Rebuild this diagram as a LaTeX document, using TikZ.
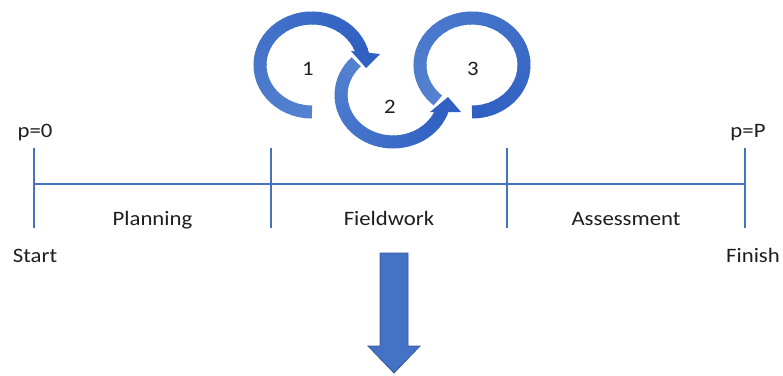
\documentclass[tikz,border=0pt]{standalone}
\usepackage{fontspec}
\usepackage{graphicx}
\setmainfont{Carlito}
\usetikzlibrary{calc}

\definecolor{lineblue}{HTML}{4472C4}
\definecolor{arclight}{HTML}{5482D0}
\definecolor{arcdark}{HTML}{2F60C2}
\definecolor{arrowedge}{HTML}{34599E}
\definecolor{txt}{HTML}{1E1E1E}

% horizontally widened text
\newcommand{\wide}[1]{\scalebox{1.11}[1]{#1}}

% thick elliptical arc whose colour runs from #6 to #7
% #1 centre, #2/#3 radii (pt), #4 start angle, #5 end angle
\newcommand{\gradarc}[7]{%
  \foreach \k in {0,...,39}{%
    \pgfmathsetmacro{\ta}{#4+(#5-#4)*\k/40}%
    \pgfmathsetmacro{\tb}{#4+(#5-#4)*min(\k+1.2,40)/40}%
    \pgfmathtruncatemacro{\pc}{100*\k/39}%
    \colorlet{segcol}{#7!\pc!#6}%
    \draw[line width=13pt, segcol]
      ($(#1)+(\ta:#2pt and #3pt)$) arc[start angle=\ta, end angle=\tb, x radius=#2pt, y radius=#3pt];
  }}

\begin{document}
\begin{tikzpicture}[x=1pt, y=1pt,
  tl/.style={draw=lineblue, line width=2.8pt},
  lbl/.style={font=\fontsize{20.5}{24}\selectfont, text=txt, inner sep=0pt, anchor=base}]

\useasboundingbox (0,0) rectangle (783,-375);
\fill[white] (0,0) rectangle (783,-375);

% ---- timeline ----
\coordinate (t0) at (34,-184);
\coordinate (t1) at (271,-184);
\coordinate (t2) at (507,-184);
\coordinate (t3) at (745,-184);
\foreach \t in {t0,t1,t2,t3}{
  \coordinate (\t top) at ($(\t)+(0,36)$);
  \coordinate (\t bot) at ($(\t)+(0,-44)$);
  \draw[tl] (\t top) -- (\t bot);
}
\draw[tl] (t0) -- (t3);

\node[lbl] (p0) at (35,-137) {\wide{p=0}};
\node[lbl] (pP) at (748,-137) {\wide{p=P}};
\node[lbl] (start) at (35,-262) {\wide{Start}};
\node[lbl] (finish) at (753,-262) {\wide{Finish}};
\node[lbl] (plan) at ($(t0)!0.5!(t1)+(0,-41)$) {\wide{Planning}};
\node[lbl] (field) at ($(t1)!0.5!(t2)+(0,-41)$) {\wide{Fieldwork}};
\node[lbl] (assess) at ($(t2)!0.5!(t3)+(0,-41)$) {\wide{Assessment}};

% ---- iteration loops ----
\coordinate (c1) at (312,-65);
\coordinate (c2) at (393,-95);
\coordinate (c3) at (472,-65);

\gradarc{c3}{52}{47}{229}{-90}{arclight}{arcdark}
\gradarc{c2}{52}{47}{135}{343}{arclight}{arcdark}
\gradarc{c1}{52}{47}{-90}{-348}{arclight}{arcdark}

% arrowheads
\fill[arcdark] (351,-51) -- (380,-54) -- (366,-68) -- cycle;
\fill[arcdark] (430,-112) -- (448,-97) -- (461,-112) -- cycle;

\node[lbl] (n1) at (308,-75) {\wide{1}};
\node[lbl] (n2) at (390,-113) {\wide{2}};
\node[lbl] (n3) at (473,-75) {\wide{3}};

% ---- outcome arrow ----
\fill[lineblue, draw=arrowedge, line width=0.8pt]
  (380,-253) -- (408,-253) -- (408,-346) -- (420,-346) -- (394,-373)
  -- (368,-346) -- (380,-346) -- cycle;

\end{tikzpicture}
\end{document}
